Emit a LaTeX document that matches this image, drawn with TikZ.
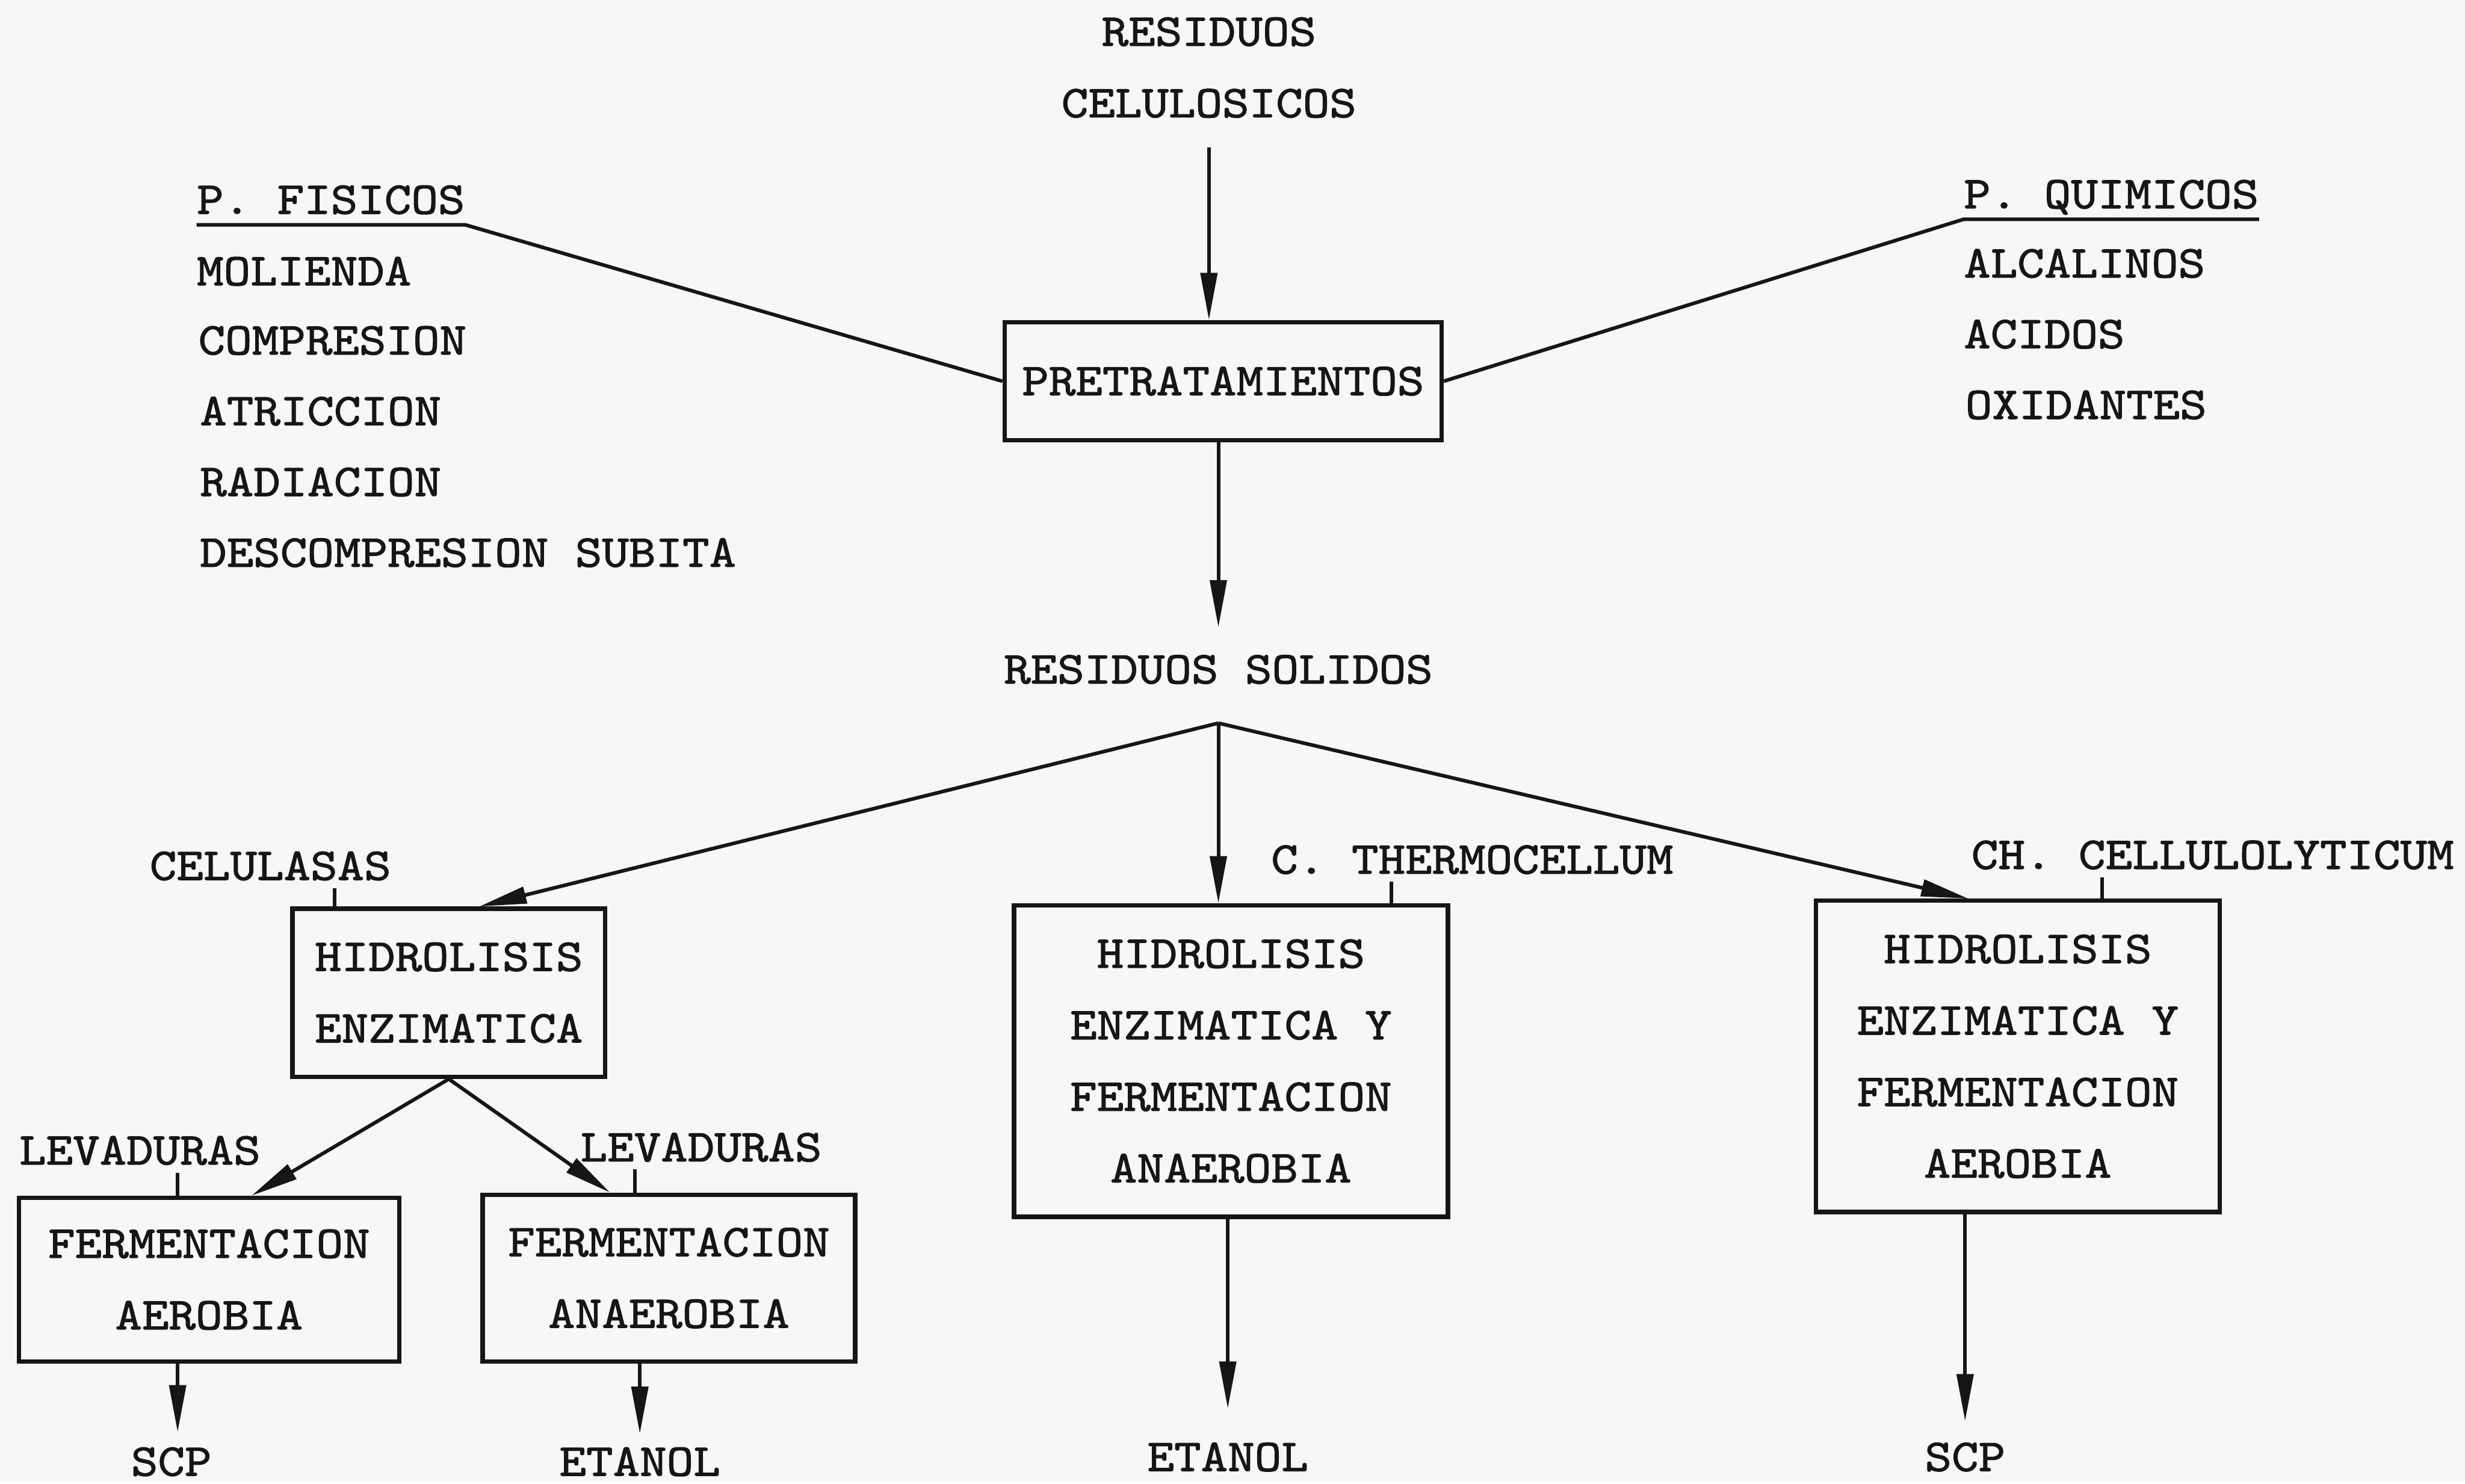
\documentclass[tikz,border=0pt]{standalone}
\usepackage{fontspec}
\newfontfamily\tw[Extension=.otf, FakeBold=1.6, FakeStretch=1.12]{lmmono10-regular}
\usetikzlibrary{arrows.meta}
\definecolor{paper}{RGB}{247,247,247}
\definecolor{ink}{RGB}{22,22,22}
\begin{document}
\begin{tikzpicture}[x=1pt,y=-1pt,
  every node/.style={font={\tw\fontsize{29}{45.5}\selectfont}, text=ink},
  lbl/.style={inner xsep=0pt, inner ysep=5pt, text height=17.5pt, text depth=0pt},
  item/.style={anchor=base west, inner sep=0pt},
  box/.style={draw=ink, line width=2.8pt, align=center, inner sep=0pt},
  link/.style={draw=ink, line width=2.3pt},
  arr/.style={link, -{Triangle[length=30pt,width=10.5pt]}},
  tick/.style={draw=ink, line width=2.3pt}]

% sheet
\fill[paper] (0,0) rectangle (1568,942.4);

% source and pretreatment
\node[align=center, inner sep=0pt] (src) at (769,43) {RESIDUOS\\CELULOSICOS};
\node[box, minimum width=278pt, minimum height=75pt] (pre) at (778,242.5) {PRETRATAMIENTOS};

% physical pretreatments
\node[item] (fis) at (125,136) {P. FISICOS};
\node[item] (f1) at (125,181.5) {MOLIENDA};
\node[item] (f2) at (126,225.5) {COMPRESION};
\node[item] (f3) at (127,270.5) {ATRICCION};
\node[item] (f4) at (127,315.5) {RADIACION};
\node[item] (f5) at (127,360.5) {DESCOMPRESION SUBITA};

% chemical pretreatments
\node[item] (qui) at (1249,132.5) {P. QUIMICOS};
\node[item] (q1) at (1249,176.5) {ALCALINOS};
\node[item] (q2) at (1249,221.5) {ACIDOS};
\node[item] (q3) at (1250,266.5) {OXIDANTES};

\draw[link] ([yshift=-7pt]fis.base west) -- ([yshift=-7pt]fis.base east) -- (pre.west);
\draw[link] (pre.east) -- ([yshift=-7pt]qui.base west) -- ([yshift=-7pt]qui.base east);

% solid residue
\node[lbl] (sol) at (775,426) {RESIDUOS SOLIDOS};
\coordinate (br) at (775,460);

% process boxes
\node[box, minimum width=199pt, minimum height=107pt] (hid) at (285.5,631.5) {HIDROLISIS\\ENZIMATICA};
\node[box, minimum width=242pt, minimum height=104pt] (fa) at (133,814) {FERMENTACION\\AEROBIA};
\node[box, minimum width=237pt, minimum height=106pt] (fan) at (425.5,813) {FERMENTACION\\ANAEROBIA};
\node[box, minimum width=276pt, minimum height=198pt] (mid) at (783,675) {HIDROLISIS\\ENZIMATICA Y\\FERMENTACION\\ANAEROBIA};
\node[box, minimum width=257pt, minimum height=198pt] (rgt) at (1283.5,672) {HIDROLISIS\\ENZIMATICA Y\\FERMENTACION\\AEROBIA};

% agents
\node[lbl] (cel) at (172,551) {CELULASAS};
\node[lbl] (lev1) at (89,732) {LEVADURAS};
\node[lbl] (lev2) at (446,730) {LEVADURAS};
\node[lbl] (the) at (936.5,547) {C. THERMOCELLUM};
\node[lbl] (cll) at (1407.5,544) {CH. CELLULOLYTICUM};

% products
\node[lbl] (scp1) at (109,930) {SCP};
\node[lbl] (eta1) at (407,930) {ETANOL};
\node[lbl] (eta2) at (781,927) {ETANOL};
\node[lbl] (scp2) at (1250,927) {SCP};

% agent ticks
\coordinate (k1) at (213,0);
\coordinate (k2) at (113,0);
\coordinate (k3) at (404,0);
\coordinate (k4) at (885,0);
\coordinate (k5) at (1337,0);
\draw[tick] (cel.south -| k1) -- (hid.north -| k1);
\draw[tick] (lev1.south -| k2) -- (fa.north -| k2);
\draw[tick] (lev2.south -| k3) -- (fan.north -| k3);
\draw[tick] (the.south -| k4) -- (mid.north -| k4);
\draw[tick] (cll.south -| k5) -- (rgt.north -| k5);

% flow
\draw[arr, shorten <=18.5pt] (src.south) -- (src.south |- pre.north);
\draw[arr, shorten >=13pt] (sol.north |- pre.south) -- (sol.north);
\draw[arr] (br) -- ([xshift=19.5pt]hid.north);
\draw[arr] (br) -- (br |- mid.north);
\draw[arr] (br) -- ([xshift=-31.5pt]rgt.north);
\draw[arr] (hid.south) -- ([xshift=27pt]fa.north);
\draw[arr] (hid.south) -- ([xshift=-37.5pt]fan.north);
\draw[arr, shorten >=5pt] (k2 |- fa.south) -- (k2 |- scp1.north);
\draw[arr, shorten >=4pt] (eta1.north |- fan.south) -- (eta1.north);
\draw[arr, shorten >=17pt] (eta2.north |- mid.south) -- (eta2.north);
\draw[arr, shorten >=9pt] (scp2.north |- rgt.south) -- (scp2.north);
\end{tikzpicture}
\end{document}
